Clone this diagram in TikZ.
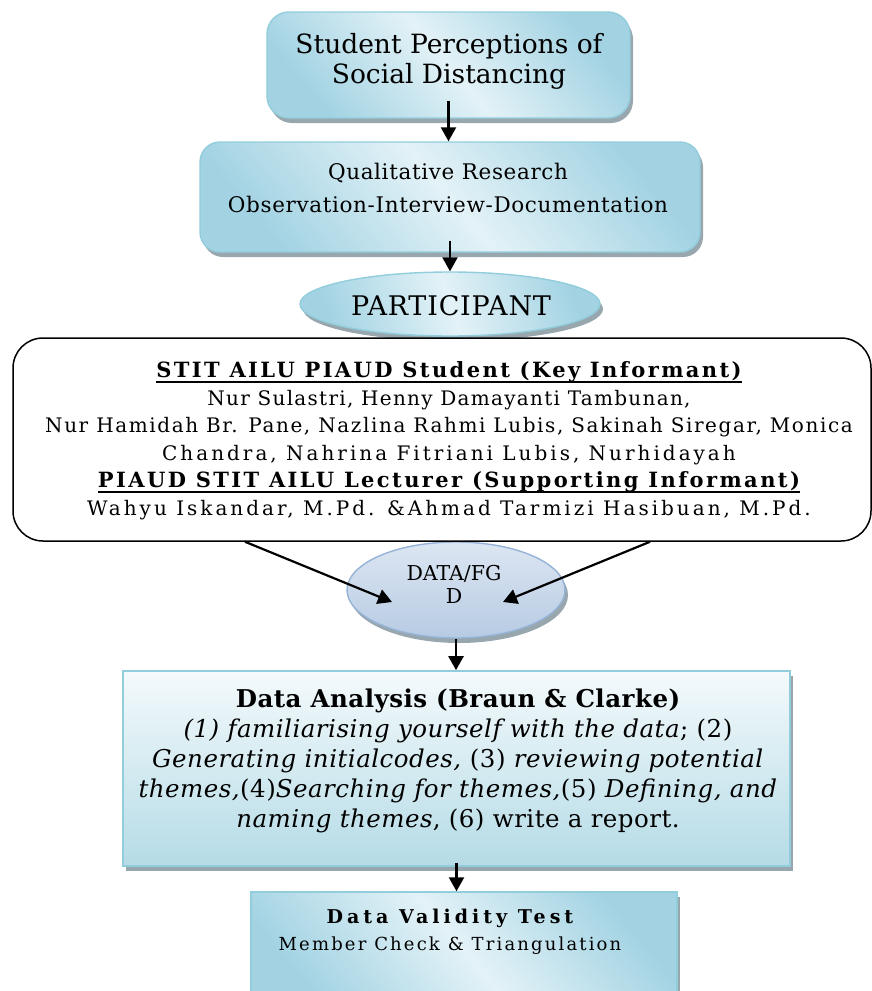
\documentclass[tikz,border=0pt]{standalone}
\usepackage{fontspec}
\setmainfont{DejaVu Serif}
\usetikzlibrary{arrows.meta,shapes.geometric,shadows}
\definecolor{bD}{HTML}{A3D3E3}
\definecolor{bL}{HTML}{E3F2F7}
\definecolor{bB}{HTML}{92CDDC}
\definecolor{daTop}{HTML}{F4FAFC}
\definecolor{daBot}{HTML}{B5DBE6}
\definecolor{eTop}{HTML}{DCE6F2}
\definecolor{eBot}{HTML}{B7CBE3}
\definecolor{eB}{HTML}{95B3D7}
\definecolor{shd}{HTML}{8697A0}
\newcommand\LSp[2]{{\addfontfeature{LetterSpace=#1}#2}}
\newcommand\myul[1]{\setbox0\hbox{#1}\rlap{\vrule height -3.4pt depth 5.2pt width \wd0}\box0}
\tikzset{
  shadowA/.style={drop shadow={shadow xshift=3pt,shadow yshift=-5pt,fill=shd,opacity=.85}},
  bluebox/.style={draw=bB,line width=1.4pt,shadowA,top color=bD,bottom color=bD,middle color=bL,shading angle=-50},
  blueell/.style={ellipse,draw=bB,line width=1.4pt,shadowA,top color=bD,bottom color=bD,middle color=bL,shading angle=-70},
  dataell/.style={ellipse,draw=eB,line width=1.4pt,shadowA,top color=eTop,bottom color=eBot},
  dabox/.style={draw=bB,line width=1.6pt,shadowA,top color=daTop,bottom color=daBot},
  infbox/.style={draw=black,line width=1.5pt,fill=white,rounded corners=30pt},
  txt/.style={align=center,inner sep=0pt},
  arr/.style={line width=2.2pt,-{Triangle[width=15pt,length=14pt]}},
}
\begin{document}
\begin{tikzpicture}[x=1pt,y=-1pt]
\useasboundingbox (0,0) rectangle (872,991);
% boxes
\node[bluebox,rounded corners=22pt,minimum width=363pt,minimum height=106pt] (b1) at (448.5,65) {};
\node[txt,font=\fontsize{26.5}{30}\selectfont] (b1t) at (449,61) {Student Perceptions of\\Social Distancing};
\node[bluebox,rounded corners=20pt,minimum width=500pt,minimum height=110pt] (b2) at (450,197) {};
\node[txt,font=\fontsize{21.5}{33}\selectfont\addfontfeature{LetterSpace=3}] (b2t) at (448,188) {Qualitative Research\\Observation-Interview-Documentation};
\node[blueell,minimum width=300pt,minimum height=64pt] (p) at (450,304) {};
\node[txt,font=\fontsize{27}{30}\selectfont\addfontfeature{LetterSpace=3}] (pt) at (451,306) {PARTICIPANT};
% data ellipse (behind informant box)
\node[dataell,minimum width=218pt,minimum height=96pt] (d) at (456,590) {};
\node[infbox,minimum width=858pt,minimum height=203pt] (inf) at (442,439.5) {};
\node[txt,font=\fontsize{20}{27.5}\selectfont] (inft) at (449,440.5) {%
{\fontsize{21}{27.5}\selectfont\bfseries\myul{\LSp{11.5}{STIT AILU PIAUD Student (Key Informant)}}}\\
\LSp{6.5}{Nur Sulastri, Henny Damayanti Tambunan,}\\
\LSp{8}{Nur Hamidah Br. Pane, Nazlina Rahmi Lubis, Sakinah Siregar, Monica}\\
\LSp{15}{Chandra, Nahrina Fitriani Lubis, Nurhidayah}\\
{\fontsize{21}{27.5}\selectfont\bfseries\myul{\LSp{11.5}{PIAUD STIT AILU Lecturer (Supporting Informant)}}}\\
\LSp{15}{Wahyu Iskandar, M.Pd. \&Ahmad Tarmizi Hasibuan, M.Pd.}};
\node[txt,font=\fontsize{20.5}{23}\selectfont] (dt) at (454,584) {DATA/FG\\D};
\node[dabox,minimum width=667pt,minimum height=195pt] (da) at (456.5,768.5) {};
\node[txt,font=\fontsize{24.5}{30}\selectfont\addfontfeature{LetterSpace=2}] (dat) at (458,761) {%
{\bfseries Data Analysis (Braun \& Clarke)}\\
\textit{(1) familiarising yourself with the data}; (2)\\
\textit{Generating initialcodes,} (3) \textit{reviewing potential}\\
\textit{themes,}(4)\textit{Searching for themes,}(5) \textit{Defining, and}\\
\textit{naming themes}, (6) write a report.};
\node[bluebox,minimum width=426pt,minimum height=116pt] (v) at (464,950) {};
\node[txt,font=\fontsize{18}{27}\selectfont] (vt) at (450,932) {%
{\fontsize{19}{27}\selectfont\bfseries\LSp{21}{Data Validity Test}}\\
\LSp{12}{Member Check \& Triangulation}};
% connectors
\coordinate (sL) at ([xshift=-197pt]inf.south);
\coordinate (sR) at ([xshift=208pt]inf.south);
\coordinate (tL) at (392,602);
\coordinate (tR) at (503,602);
\draw[arr] ([yshift=18pt]b1.south) -- (b1.south |- b2.north);
\draw[arr] ([yshift=12pt]b2.south) -- (p.north);
\draw[arr] (sL) -- (tL);
\draw[arr] (sR) -- (tR);
\draw[arr] (d.south) -- (d.south |- da.north);
\draw[arr] ([yshift=4pt]da.south) -- (da.south |- v.north);
\end{tikzpicture}
\end{document}
